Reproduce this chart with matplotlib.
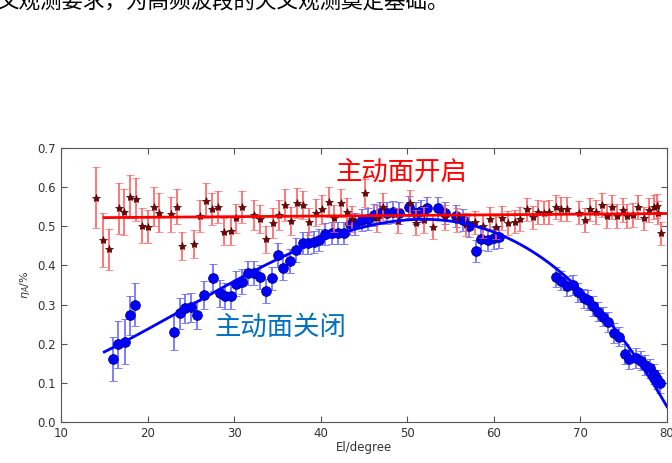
import numpy as np
import matplotlib
matplotlib.use("Agg")
import matplotlib.pyplot as plt

plt.rcParams['font.family'] = ['DejaVu Sans']
cjk = ['Noto Sans CJK SC', 'DejaVu Sans']

# active surface ON (red stars)
on_el = [14.1, 14.8, 15.5, 16.75, 17.3, 18.0, 18.7, 19.3, 20.1, 20.7, 21.3, 22.7, 23.4, 24.0, 25.4,
         26.1, 26.75, 27.4, 28.1, 28.8, 29.6, 30.2, 30.9, 32.3, 33.0, 33.7, 34.5, 35.2, 35.9, 36.6,
         37.3, 38.0, 38.7, 39.4, 40.2, 40.9, 41.5, 42.3, 43.0, 43.6, 45.1, 46.5, 47.2, 48.9, 50.3,
         51.0, 51.9, 53.0, 54.3, 55.8, 56.8, 57.8, 58.7, 59.5, 60.2, 60.9, 61.6, 62.4, 63.0, 63.8,
         64.5, 65.1, 65.8, 66.4, 67.2, 67.8, 68.5, 69.8, 70.5, 71.1, 71.8, 72.5, 73.1, 73.7, 74.2,
         74.9, 75.4, 76.1, 76.7, 77.3, 77.9, 78.5, 78.9, 79.0, 79.25]
on_eff = [0.573, 0.465, 0.441, 0.546, 0.537, 0.576, 0.569, 0.502, 0.499, 0.550, 0.535, 0.531, 0.550, 0.450, 0.455,
          0.526, 0.565, 0.544, 0.549, 0.486, 0.488, 0.520, 0.549, 0.529, 0.519, 0.467, 0.509, 0.529, 0.554, 0.514,
          0.560, 0.554, 0.512, 0.535, 0.543, 0.563, 0.520, 0.560, 0.537, 0.518, 0.585, 0.520, 0.550, 0.514, 0.560,
          0.509, 0.516, 0.499, 0.523, 0.516, 0.505, 0.510, 0.500, 0.518, 0.497, 0.521, 0.508, 0.512, 0.518, 0.543,
          0.523, 0.537, 0.535, 0.537, 0.549, 0.544, 0.544, 0.535, 0.516, 0.543, 0.537, 0.554, 0.526, 0.549, 0.526,
          0.542, 0.526, 0.529, 0.549, 0.520, 0.542, 0.549, 0.552, 0.535, 0.482]
on_err = [0.078, 0.070, 0.052, 0.065, 0.058, 0.055, 0.055, 0.045, 0.042, 0.050, 0.050, 0.045, 0.045, 0.036, 0.036,
          0.040, 0.045, 0.040, 0.040, 0.035, 0.035, 0.038, 0.040, 0.038, 0.036, 0.035, 0.038, 0.038, 0.040, 0.035,
          0.038, 0.036, 0.035, 0.035, 0.036, 0.038, 0.035, 0.036, 0.034, 0.033, 0.035, 0.034, 0.034, 0.032, 0.033,
          0.032, 0.032, 0.032, 0.032, 0.030, 0.030, 0.030, 0.030, 0.030, 0.030, 0.030, 0.030, 0.030, 0.030, 0.030,
          0.030, 0.030, 0.030, 0.030, 0.030, 0.030, 0.030, 0.030, 0.030, 0.030, 0.030, 0.030, 0.030, 0.030, 0.030,
          0.030, 0.030, 0.030, 0.030, 0.030, 0.030, 0.030, 0.030, 0.030, 0.030]

# active surface OFF (blue dots)
off_el = [16.05, 16.6, 17.4, 18.0, 18.6, 23.1, 23.8, 24.35, 25.0, 25.7, 26.5, 27.6, 28.4, 29.0, 29.6,
          30.25, 30.9, 31.6, 32.3, 33.0, 33.7, 34.4, 35.1, 35.7, 36.4, 37.1, 37.9, 38.5, 39.2, 39.8,
          40.55, 41.25, 42.0, 42.7, 43.4, 44.0, 44.8, 45.5, 46.15, 46.9, 47.6, 48.4, 49.0, 50.2, 51.0,
          51.6, 52.3, 53.55, 54.4, 55.6, 56.4, 57.1, 57.9, 58.5, 59.3, 59.96, 60.6, 67.2, 67.8, 68.5,
          69.1, 69.75, 70.4, 70.9, 71.5, 72.0, 72.6, 73.2, 73.9, 74.5, 75.15, 75.65, 76.4, 77.0, 77.5,
          78.0, 78.45, 78.9, 79.15]
off_eff = [0.161, 0.199, 0.205, 0.273, 0.299, 0.229, 0.278, 0.290, 0.293, 0.273, 0.324, 0.369, 0.329, 0.322, 0.322,
           0.353, 0.358, 0.380, 0.381, 0.371, 0.335, 0.367, 0.427, 0.394, 0.411, 0.439, 0.457, 0.457, 0.461, 0.465,
           0.480, 0.482, 0.482, 0.482, 0.506, 0.506, 0.516, 0.518, 0.529, 0.535, 0.535, 0.537, 0.535, 0.549, 0.535,
           0.540, 0.546, 0.546, 0.535, 0.526, 0.516, 0.501, 0.438, 0.467, 0.465, 0.469, 0.472, 0.371, 0.361, 0.347,
           0.350, 0.331, 0.316, 0.312, 0.296, 0.282, 0.269, 0.256, 0.227, 0.218, 0.174, 0.160, 0.163, 0.157, 0.146,
           0.137, 0.123, 0.109, 0.100]
off_err = [0.057, 0.060, 0.058, 0.050, 0.055, 0.045, 0.040, 0.038, 0.037, 0.036, 0.035, 0.035, 0.034, 0.033, 0.033,
           0.032, 0.032, 0.031, 0.031, 0.031, 0.030, 0.030, 0.030, 0.030, 0.030, 0.030, 0.028, 0.028, 0.028, 0.028,
           0.028, 0.028, 0.028, 0.028, 0.028, 0.028, 0.028, 0.028, 0.028, 0.028, 0.028, 0.028, 0.028, 0.028, 0.028,
           0.028, 0.028, 0.028, 0.028, 0.028, 0.028, 0.028, 0.028, 0.028, 0.028, 0.028, 0.028, 0.025, 0.025, 0.025,
           0.025, 0.025, 0.025, 0.025, 0.025, 0.025, 0.025, 0.025, 0.025, 0.025, 0.025, 0.025, 0.025, 0.025, 0.025,
           0.025, 0.025, 0.025, 0.025]

fig = plt.figure(figsize=(6.72, 4.63), dpi=100)
ax = fig.add_axes([61/672, 41/463, 606/672, 274/463])

ax.errorbar(off_el, off_eff, yerr=off_err, fmt='o', color='#0000ff', ms=7, mec='#000080', mew=0.6,
            ecolor='#6a6aff', elinewidth=1.2, capsize=3, capthick=1.2, zorder=2)
ax.errorbar(on_el, on_eff, yerr=on_err, fmt='*', color='#800000', ms=6, mec='#400000', mew=0.5,
            ecolor='#ff6060', elinewidth=1.2, capsize=3, capthick=1.2, zorder=3)

# fitted curves
xf = np.linspace(15, 80, 200)
pb = np.polyfit(off_el, off_eff, 3)
ax.plot(xf, np.polyval(pb, xf), color='#0000ff', lw=2, zorder=4)
pr = np.polyfit(on_el, on_eff, 1)
ax.plot(xf, np.polyval(pr, xf), color='#ff0000', lw=2, zorder=5)

ax.set_xlim(10, 80)
ax.set_ylim(0, 0.7)
ax.set_xticks(np.arange(10, 81, 10))
ax.set_yticks(np.arange(0, 0.71, 0.1))
ax.tick_params(direction='in', top=True, right=True, labelsize=8.5, labelcolor='#333333', color='#555555', length=4)
for s in ax.spines.values():
    s.set_color('#555555')
ax.set_xlabel('El/degree', fontsize=8.5, color='#333333', labelpad=1)
ax.set_ylabel(r'$\eta_A$/%', fontsize=8, color='#333333', labelpad=4)

ax.text(41.7, 0.637, '主动面开启', color='#ff0000', fontsize=19, family=cjk, va='center')
ax.text(27.7, 0.243, '主动面关闭', color='#0070c0', fontsize=19, family=cjk, va='center')

fig.text(-0.004, 1 - 2/463, '文观测要求，为高频波段的天文观测奠定基础。', fontsize=15.5, family=cjk,
         va='center', ha='left', color='black')

fig.savefig('out.png', dpi=100)
